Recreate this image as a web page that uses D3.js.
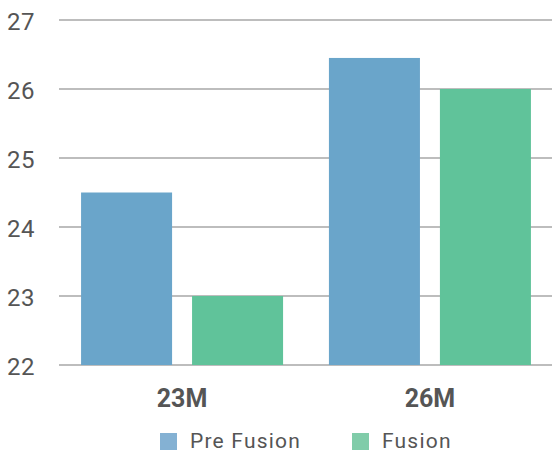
<!DOCTYPE html>
<html>
<head>
<meta charset="utf-8">
<script src="https://cdn.jsdelivr.net/npm/d3@7"></script>
<style>
  body { margin: 0; background: #fff; }
  text { font-family: Roboto, "DejaVu Sans", sans-serif; fill: #555; }
</style>
</head>
<body>
<div id="chart"></div>
<script>
const categories = ['23M', '26M'];
const seriesNames = ['Pre Fusion', 'Fusion'];
const preFusion = [24.5, 26.45];
const fusion = [23.0, 26.0];
const yTicks = [22, 23, 24, 25, 26, 27];

const colors = ['#6aa5ca', '#60c39a'];
const legendColors = ['#84b1d3', '#80cca9'];

const width = 552, height = 453;

const svg = d3.select('#chart')
    .append('svg')
    .attr('width', width)
    .attr('height', height);

const y = d3.scaleLinear().domain([22, 27]).range([365, 20]);

const x0 = d3.scaleBand()
    .domain(categories)
    .range([60, 552])
    .paddingInner(0.185)
    .paddingOuter(0.085);

const x1 = d3.scaleBand()
    .domain(seriesNames)
    .range([0, x0.bandwidth()])
    .paddingInner(0.18);

// gridlines
svg.selectAll('line.grid')
    .data(yTicks)
    .enter()
    .append('line')
    .attr('class', 'grid')
    .attr('x1', 59)
    .attr('x2', 552)
    .attr('y1', d => y(d))
    .attr('y2', d => y(d))
    .attr('stroke', '#bdbdbd')
    .attr('stroke-width', 2);

svg.selectAll('text.ytick')
    .data(yTicks)
    .enter()
    .append('text')
    .attr('class', 'ytick')
    .attr('x', 7)
    .attr('y', d => y(d))
    .attr('dy', '0.42em')
    .style('font-size', '24px')
    .style('letter-spacing', '0.5px')
    .text(d => d);

const rows = categories.map((c, i) => ({
    cat: c,
    vals: [preFusion[i], fusion[i]]
}));

const groups = svg.selectAll('g.group')
    .data(rows)
    .enter()
    .append('g')
    .attr('transform', d => `translate(${x0(d.cat)},0)`);

groups.selectAll('rect')
    .data(d => d.vals.map((v, j) => ({ name: seriesNames[j], v, j })))
    .enter()
    .append('rect')
    .attr('x', d => x1(d.name))
    .attr('y', d => y(d.v))
    .attr('width', x1.bandwidth())
    .attr('height', d => y(22) - y(d.v))
    .attr('fill', d => colors[d.j]);

// category labels
svg.selectAll('text.cat')
    .data(categories)
    .enter()
    .append('text')
    .attr('class', 'cat')
    .attr('x', d => x0(d) + x0.bandwidth() / 2)
    .attr('y', 407)
    .attr('text-anchor', 'middle')
    .style('font-size', '25px')
    .style('font-weight', 'bold')
    .text(d => d);

// legend
const legendX = [160, 352];
const legend = svg.selectAll('g.legend')
    .data(seriesNames)
    .enter()
    .append('g')
    .attr('transform', (d, i) => `translate(${legendX[i]},433)`);

legend.append('rect')
    .attr('width', 17)
    .attr('height', 17)
    .attr('fill', (d, i) => legendColors[i]);

legend.append('text')
    .attr('x', 30)
    .attr('y', 15)
    .style('font-size', '21px')
    .style('letter-spacing', '1.2px')
    .text(d => d);
</script>
</body>
</html>
